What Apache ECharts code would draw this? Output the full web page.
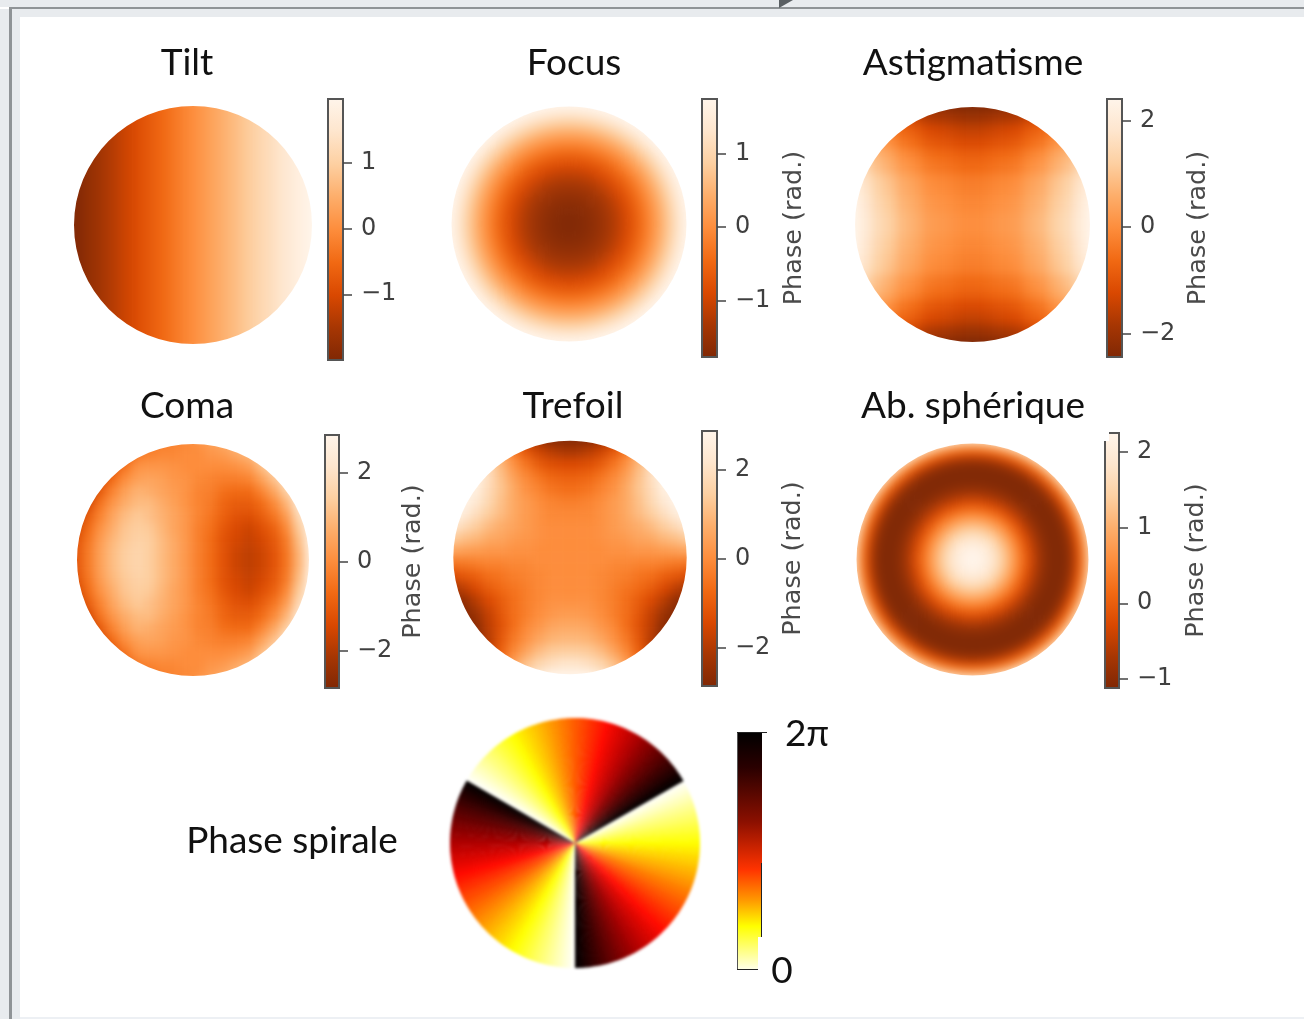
<!DOCTYPE html>
<html>
<head>
<meta charset="utf-8">
<title>Phases</title>
<script src="https://cdn.jsdelivr.net/npm/echarts@6/dist/echarts.min.js"></script>
<style>
html, body { margin: 0; padding: 0; background: #fff; overflow: hidden; }
#smooth, #spiral, #main { position: absolute; left: 0; top: 0; width: 1304px; height: 1019px; }
#smooth { filter: blur(5px); }
#spiral { filter: blur(1.5px); }
</style>
</head>
<body>
<div id="smooth"></div>
<div id="spiral"></div>
<div id="main"></div>
<script>
// phase across the disc, left to right (rad.)
var tiltValues = [-2.08,-1.99,-1.90,-1.81,-1.72,-1.64,-1.55,-1.46,-1.37,-1.28,-1.19,-1.11,-1.02,-0.93,-0.84,-0.75,
    -0.66,-0.58,-0.49,-0.40,-0.31,-0.22,-0.13,-0.04,0.04,0.13,0.22,0.31,0.40,0.49,0.58,0.66,
    0.75,0.84,0.93,1.02,1.11,1.19,1.28,1.37,1.46,1.55,1.64,1.72,1.81,1.90,1.99,2.08];

// phase from the centre outwards (rad.), the last two rings lie just past the rim
var focusValues = [-1.75,-1.74,-1.73,-1.70,-1.67,-1.63,-1.59,-1.53,-1.47,-1.40,-1.32,-1.24,-1.14,-1.04,-0.93,
    -0.81,-0.69,-0.56,-0.42,-0.27,-0.12,0.05,0.22,0.40,0.59,0.78,0.98,1.19,1.41,1.60,1.74,1.74];
var sphereValues = [2.25,2.22,2.16,2.07,1.95,1.81,1.65,1.46,1.25,1.03,0.80,0.56,0.31,0.07,-0.17,
    -0.39,-0.60,-0.78,-0.93,-1.04,-1.10,-1.12,-1.12,-1.10,-1.02,-0.85,-0.50,-0.10,0.30,0.90,1.60,2.00];

// phase on a 20x20 grid, top row first, in tenths of a radian
var astigRows = [
    [0,-5,-10,-13,-17,-19,-22,-23,-24,-25,-25,-24,-23,-22,-19,-17,-13,-10,-5,0],
    [5,0,-5,-8,-12,-14,-17,-18,-19,-20,-20,-19,-18,-17,-14,-12,-8,-5,0,5],
    [10,5,0,-3,-7,-9,-12,-13,-14,-15,-15,-14,-13,-12,-9,-7,-3,0,5,10],
    [13,8,3,0,-4,-6,-9,-10,-11,-12,-12,-11,-10,-9,-6,-4,0,3,8,13],
    [17,12,7,4,0,-2,-5,-6,-7,-8,-8,-7,-6,-5,-2,0,4,7,12,17],
    [19,14,9,6,2,0,-3,-4,-5,-6,-6,-5,-4,-3,0,2,6,9,14,19],
    [22,17,12,9,5,3,0,-1,-2,-3,-3,-2,-1,0,3,5,9,12,17,22],
    [23,18,13,10,6,4,1,0,-1,-2,-2,-1,0,1,4,6,10,13,18,23],
    [24,19,14,11,7,5,2,1,0,-1,-1,0,1,2,5,7,11,14,19,24],
    [25,20,15,12,8,6,3,2,1,0,0,1,2,3,6,8,12,15,20,25],
    [25,20,15,12,8,6,3,2,1,0,0,1,2,3,6,8,12,15,20,25],
    [24,19,14,11,7,5,2,1,0,-1,-1,0,1,2,5,7,11,14,19,24],
    [23,18,13,10,6,4,1,0,-1,-2,-2,-1,0,1,4,6,10,13,18,23],
    [22,17,12,9,5,3,0,-1,-2,-3,-3,-2,-1,0,3,5,9,12,17,22],
    [19,14,9,6,2,0,-3,-4,-5,-6,-6,-5,-4,-3,0,2,6,9,14,19],
    [17,12,7,4,0,-2,-5,-6,-7,-8,-8,-7,-6,-5,-2,0,4,7,12,17],
    [13,8,3,0,-4,-6,-9,-10,-11,-12,-12,-11,-10,-9,-6,-4,0,3,8,13],
    [10,5,0,-3,-7,-9,-12,-13,-14,-15,-15,-14,-13,-12,-9,-7,-3,0,5,10],
    [5,0,-5,-8,-12,-14,-17,-18,-19,-20,-20,-19,-18,-17,-14,-12,-8,-5,0,5],
    [0,-5,-10,-13,-17,-19,-22,-23,-24,-25,-25,-24,-23,-22,-19,-17,-13,-10,-5,0]
];
var comaRows = [
    [-28,-28,-28,-26,-17,-9,-6,-3,-2,-1,1,4,7,11,16,26,28,28,28,28],
    [-28,-28,-28,-19,-11,-4,-2,-1,-1,0,0,2,3,6,9,18,28,28,28,28],
    [-28,-28,-22,-12,-5,1,2,2,1,0,0,0,0,1,3,10,19,28,28,28],
    [-28,-26,-15,-7,0,4,5,4,2,1,-1,-2,-3,-3,-2,4,11,22,28,28],
    [-28,-20,-10,-2,4,8,7,5,3,1,-2,-3,-6,-7,-7,-2,5,14,28,28],
    [-24,-15,-5,2,7,10,10,7,4,1,-2,-4,-8,-10,-10,-7,-1,8,22,28],
    [-19,-10,-2,5,10,13,11,8,5,2,-2,-5,-9,-12,-13,-10,-5,3,17,28],
    [-16,-7,1,7,12,14,13,9,5,2,-3,-6,-11,-14,-16,-13,-9,-1,13,28],
    [-13,-5,3,9,13,15,14,10,6,2,-3,-7,-12,-15,-17,-15,-11,-4,10,27],
    [-12,-4,4,10,14,16,14,10,6,2,-3,-7,-12,-16,-18,-16,-12,-5,8,25],
    [-12,-4,4,10,14,16,14,10,6,2,-3,-7,-12,-16,-18,-16,-12,-5,8,25],
    [-13,-5,3,9,13,15,14,10,6,2,-3,-7,-12,-15,-17,-15,-11,-4,10,27],
    [-16,-7,1,7,12,14,13,9,5,2,-3,-6,-11,-14,-16,-13,-9,-1,13,28],
    [-19,-10,-2,5,10,13,11,8,5,2,-2,-5,-9,-12,-13,-10,-5,3,17,28],
    [-24,-15,-5,2,7,10,10,7,4,1,-2,-4,-8,-10,-10,-7,-1,8,22,28],
    [-28,-20,-10,-2,4,8,7,5,3,1,-2,-3,-6,-7,-7,-2,5,14,28,28],
    [-28,-26,-15,-7,0,4,5,4,2,1,-1,-2,-3,-3,-2,4,11,22,28,28],
    [-28,-28,-22,-12,-5,1,2,2,1,0,0,0,0,1,3,10,19,28,28,28],
    [-28,-28,-28,-19,-11,-4,-2,-1,-1,0,0,2,3,6,9,18,28,28,28,28],
    [-28,-28,-28,-26,-17,-9,-6,-3,-2,-1,1,4,7,11,16,26,28,28,28,28]
];
var trefoilRows = [
    [28,28,26,12,0,-10,-18,-24,-28,-28,-28,-28,-24,-18,-10,0,12,26,28,28],
    [28,28,28,16,6,-4,-11,-16,-19,-21,-21,-19,-16,-11,-4,6,16,28,28,28],
    [28,28,28,18,9,1,-5,-10,-13,-14,-14,-13,-10,-5,1,9,18,28,28,28],
    [28,28,28,19,11,4,-1,-5,-8,-9,-9,-8,-5,-1,4,11,19,28,28,28],
    [28,28,26,18,12,6,1,-2,-5,-6,-6,-5,-2,1,6,12,18,26,28,28],
    [28,28,23,17,11,6,3,0,-2,-3,-3,-2,0,3,6,11,17,23,28,28],
    [28,25,19,14,10,6,3,1,-1,-1,-1,-1,1,3,6,10,14,19,25,28],
    [23,18,14,10,7,5,3,1,0,0,0,0,1,3,5,7,10,14,18,23],
    [14,11,9,6,5,3,2,1,0,0,0,0,1,2,3,5,6,9,11,14],
    [5,4,3,2,2,1,1,0,0,0,0,0,0,1,1,2,2,3,4,5],
    [-5,-4,-3,-2,-2,-1,-1,0,0,0,0,0,0,-1,-1,-2,-2,-3,-4,-5],
    [-14,-11,-9,-6,-5,-3,-2,-1,0,0,0,0,-1,-2,-3,-5,-6,-9,-11,-14],
    [-23,-18,-14,-10,-7,-5,-3,-1,0,0,0,0,-1,-3,-5,-7,-10,-14,-18,-23],
    [-28,-25,-19,-14,-10,-6,-3,-1,1,1,1,1,-1,-3,-6,-10,-14,-19,-25,-28],
    [-28,-28,-23,-17,-11,-6,-3,0,2,3,3,2,0,-3,-6,-11,-17,-23,-28,-28],
    [-28,-28,-26,-18,-12,-6,-1,2,5,6,6,5,2,-1,-6,-12,-18,-26,-28,-28],
    [-28,-28,-28,-19,-11,-4,1,5,8,9,9,8,5,1,-4,-11,-19,-28,-28,-28],
    [-28,-28,-28,-18,-9,-1,5,10,13,14,14,13,10,5,-1,-9,-18,-28,-28,-28],
    [-28,-28,-28,-16,-6,4,11,16,19,21,21,19,16,11,4,-6,-16,-28,-28,-28],
    [-28,-28,-26,-12,0,10,18,24,28,28,28,28,24,18,10,0,-12,-26,-28,-28]
];

// one spiral sector, clockwise, 0 to 2 pi; the disc holds three of them
var spiralSector = [0.05,0.16,0.26,0.37,0.47,0.58,0.68,0.79,0.89,0.99,1.10,1.20,1.31,1.41,1.52,1.62,1.73,1.83,1.94,2.04,
    2.15,2.25,2.36,2.46,2.57,2.67,2.78,2.88,2.98,3.09,3.19,3.30,3.40,3.51,3.61,3.72,3.82,3.93,4.03,4.14,
    4.24,4.35,4.45,4.56,4.66,4.76,4.87,4.97,5.08,5.18,5.29,5.39,5.50,5.60,5.71,5.81,5.92,6.02,6.13,6.23];
var spiralValues = spiralSector.concat(spiralSector, spiralSector);

// colorbar ticks
var tiltTicks = [-1, 0, 1];
var focusTicks = [-1, 0, 1];
var astigTicks = [-2, 0, 2];
var comaTicks = [-2, 0, 2];
var trefoilTicks = [-2, 0, 2];
var sphereTicks = [-1, 0, 1, 2];

var oranges = ['#7f2704','#a63603','#d94801','#f16913','#fd8d3c','#fdae6b','#fdd0a2','#fee6ce','#fff5eb'];
var hotR = ['#ffffff','#ffff80','#ffff00','#ffad00','#ff5a00','#ff0a00','#af0000','#570000','#000000'];
var font = 'Lato';

// heatmap discs
var gridDiscs = [
    {rows: [tiltValues], unit: 1, min: -1.98, max: 1.98, cx: 193, cy: 225, r: 119},
    {rows: astigRows, unit: 0.1, min: -2.44, max: 2.41, cx: 972.5, cy: 224.5, r: 117.5},
    {rows: comaRows, unit: 0.1, min: -2.85, max: 2.85, cx: 193, cy: 560, r: 116},
    {rows: trefoilRows, unit: 0.1, min: -2.85, max: 2.86, cx: 570, cy: 557.5, r: 116.7}
];
// radial discs
var ringDiscs = [
    {values: focusValues, min: -1.77, max: 1.74, cx: 569, cy: 224, r: 117.5},
    {values: sphereValues, min: -1.12, max: 2.25, cx: 972.5, cy: 559.5, r: 116}
];
// colorbars
var bars = [
    {ticks: tiltTicks, min: -2.0, max: 1.97, x: 328, y: 99, w: 15, h: 261, name: ''},
    {ticks: focusTicks, min: -1.77, max: 1.74, x: 702, y: 99, w: 15, h: 258, name: 'Phase (rad.)', gap: 64},
    {ticks: astigTicks, min: -2.44, max: 2.41, x: 1107, y: 99, w: 15, h: 258, name: 'Phase (rad.)', gap: 63},
    {ticks: comaTicks, min: -2.85, max: 2.85, x: 325, y: 435, w: 14, h: 253, name: 'Phase (rad.)', gap: 61},
    {ticks: trefoilTicks, min: -2.85, max: 2.86, x: 702, y: 431, w: 15, h: 255, name: 'Phase (rad.)', gap: 63},
    {ticks: sphereTicks, min: -1.12, max: 2.25, x: 1105, y: 433, w: 14, h: 255, name: 'Phase (rad.)', gap: 64}
];
var titles = [
    ['Tilt', 187, 63], ['Focus', 574, 63], ['Astigmatisme', 973, 63],
    ['Coma', 187, 406], ['Trefoil', 573, 406], ['Ab. sphérique', 973, 406],
    ['Phase spirale', 292, 841], ['2\u03c0', 807, 734], ['0', 782, 971]
];

function renderRing(params, api) {
    var c = params.coordSys;
    var k = api.value(0);
    var p0 = api.coord([k, 0]);
    var p1 = api.coord([k + 1, 0]);
    return {
        type: 'ring',
        shape: {
            cx: c.cx, cy: c.cy,
            r0: Math.hypot(p0[0] - c.cx, p0[1] - c.cy),
            r: Math.hypot(p1[0] - c.cx, p1[1] - c.cy)
        },
        style: {fill: api.visual('color'), stroke: api.visual('color'), lineWidth: 0.6}
    };
}
function renderSlice(params, api) {
    var c = params.coordSys;
    var k = api.value(1);
    // narrow enough to be a triangle; the next slice's edge is overlapped to hide the seam
    return {
        type: 'polygon',
        shape: {points: [[c.cx, c.cy], api.coord([1, k]), api.coord([1, k + 1.15])]},
        style: {fill: api.visual('color')}
    };
}
function circlePath(cx, cy, r) {
    return 'M' + (cx - r) + ' ' + cy + 'a' + r + ' ' + r + ' 0 1 0 ' + (2 * r) + ' 0a' + r + ' ' + r + ' 0 1 0 ' + (-2 * r) + ' 0Z';
}

// ---- blurred layer, every disc drawn a little too large and cut down by the clip path
var smoothDiv = document.getElementById('smooth');
var clip = '';
var smoothOption = {
    animation: false, grid: [], xAxis: [], yAxis: [],
    polar: [], radiusAxis: [], angleAxis: [], visualMap: [], series: []
};
gridDiscs.forEach(function (d, i) {
    var R = d.r * 1.07;
    var cells = [];
    d.rows.forEach(function (row, y) {
        row.forEach(function (v, x) {
            cells.push([x, y, +(v * d.unit).toFixed(2)]);
        });
    });
    var xCats = d.rows[0].map(function (v, k) { return k; });
    var yCats = d.rows.map(function (v, k) { return k; });
    smoothOption.grid.push({left: d.cx - R, top: d.cy - R, width: 2 * R, height: 2 * R});
    smoothOption.xAxis.push({gridIndex: i, type: 'category', data: xCats, show: false});
    smoothOption.yAxis.push({gridIndex: i, type: 'category', data: yCats, inverse: true, show: false});
    smoothOption.visualMap.push({show: false, seriesIndex: i, dimension: 2, min: d.min, max: d.max, inRange: {color: oranges}});
    smoothOption.series.push({type: 'heatmap', xAxisIndex: i, yAxisIndex: i, data: cells, progressive: 0, silent: true});
    clip += circlePath(d.cx, d.cy, d.r);
});
ringDiscs.forEach(function (d, i) {
    var data = d.values.map(function (v, k) { return [k, 0, v]; });
    smoothOption.polar.push({center: [d.cx, d.cy], radius: d.r * 1.067});
    smoothOption.radiusAxis.push({polarIndex: i, type: 'value', min: 0, max: d.values.length, show: false});
    smoothOption.angleAxis.push({polarIndex: i, type: 'value', min: 0, max: 1, show: false});
    smoothOption.visualMap.push({show: false, seriesIndex: gridDiscs.length + i, dimension: 2, min: d.min, max: d.max, inRange: {color: oranges}});
    smoothOption.series.push({type: 'custom', coordinateSystem: 'polar', polarIndex: i, data: data, renderItem: renderRing, silent: true});
    clip += circlePath(d.cx, d.cy, d.r);
});
smoothDiv.style.clipPath = "path('" + clip + "')";
echarts.init(smoothDiv).setOption(smoothOption);

// ---- spiral disc, only lightly softened so the sector edges stay sharp
var spiralData = spiralValues.map(function (v, k) { return [1, k, v]; });
echarts.init(document.getElementById('spiral')).setOption({
    animation: false,
    polar: {center: [575, 843], radius: 125},
    radiusAxis: {type: 'value', min: 0, max: 1, show: false},
    angleAxis: {type: 'value', min: 0, max: spiralValues.length, startAngle: 30, clockwise: true, show: false},
    visualMap: {show: false, dimension: 2, min: 0, max: 6.283, inRange: {color: hotR}},
    series: [{type: 'custom', coordinateSystem: 'polar', data: spiralData, renderItem: renderSlice, silent: true}]
});

// ---- top layer: titles, colorbars, frame
var option = {
    animation: false,
    title: titles.map(function (t) {
        return {
            text: t[0], left: t[1], top: t[2], padding: 0, textAlign: 'center', textVerticalAlign: 'middle',
            textStyle: {fontFamily: font, fontSize: 37, fontWeight: 'normal', color: '#111'}
        };
    }),
    grid: [], xAxis: [], yAxis: [],
    graphic: []
};

// colorbars, the gradient is the grid background
var orangeStops = oranges.map(function (c, k) { return {offset: k / (oranges.length - 1), color: c}; });
bars.forEach(function (b, i) {
    option.grid.push({
        show: true, left: b.x, top: b.y, width: b.w, height: b.h,
        backgroundColor: new echarts.graphic.LinearGradient(0, 1, 0, 0, orangeStops),
        borderColor: '#555', borderWidth: 2
    });
    option.xAxis.push({gridIndex: i, type: 'value', min: 0, max: 1, show: false});
    option.yAxis.push({
        gridIndex: i, type: 'value', position: 'right', min: b.min, max: b.max,
        name: b.name, nameLocation: 'middle', nameRotate: 90, nameGap: b.gap, nameMoveOverlap: false,
        nameTextStyle: {fontFamily: 'DejaVu Sans', fontSize: 25.5, color: '#4a4a4a'},
        axisLine: {show: false, onZero: false},
        splitLine: {show: false},
        axisTick: {show: true, length: 9, customValues: b.ticks, lineStyle: {color: '#444', width: 1.5}},
        axisLabel: {
            show: true, margin: 18, customValues: b.ticks,
            fontFamily: 'DejaVu Sans', fontSize: 24, color: '#3f3f3f',
            formatter: function (v) { return String(v).replace('-', '\u2212'); }
        }
    });
});

// spiral colorbar
var spiralStops = [
    {offset: 0, color: '#ffffe6'}, {offset: 0.18, color: '#ffff00'}, {offset: 0.29, color: '#ff9900'},
    {offset: 0.42, color: '#ff3300'}, {offset: 0.62, color: '#8c1000'}, {offset: 0.85, color: '#2a0000'},
    {offset: 1, color: '#000000'}
];
option.grid.push({
    show: true, left: 738, top: 732, width: 24, height: 237,
    backgroundColor: new echarts.graphic.LinearGradient(0, 1, 0, 0, spiralStops), borderWidth: 0
});
option.xAxis.push({gridIndex: bars.length, type: 'value', min: 0, max: 1, show: false});
option.yAxis.push({gridIndex: bars.length, type: 'value', position: 'right', min: 0, max: 6.283, show: false});

// screenshot frame and the small cover-ups in the picture
function rect(x, y, w, h, fill) {
    return {type: 'rect', z: 50, silent: true, shape: {x: x, y: y, width: w, height: h}, style: {fill: fill}};
}
option.graphic = [
    rect(0, 0, 1304, 7, '#e8ebee'),
    rect(0, 9, 1304, 8, '#e8ebee'),
    rect(0, 17, 9, 1002, '#e8ebee'),
    rect(12, 17, 8, 1002, '#e8ebee'),
    rect(20, 1017, 1284, 2, '#edf0f4'),
    rect(9, 7, 1295, 2, '#8f9396'),
    rect(9, 7, 3, 1012, '#8f9396'),
    {type: 'polygon', z: 50, silent: true, shape: {points: [[779, 0], [793, 0], [779, 8]]}, style: {fill: '#5a5f63'}},
    // colorbar edges that are cut off in the source image
    rect(1103, 431, 6, 10, '#ffffff'),
    rect(758, 937, 6, 33, '#ffffff'),
    rect(737, 732, 1, 238, '#555555'),
    rect(761, 863, 1, 74, '#222222'),
    rect(737, 969, 21, 1, '#222222'),
    rect(737, 732, 30, 1, '#222222')
];

echarts.init(document.getElementById('main')).setOption(option);
</script>
</body>
</html>
